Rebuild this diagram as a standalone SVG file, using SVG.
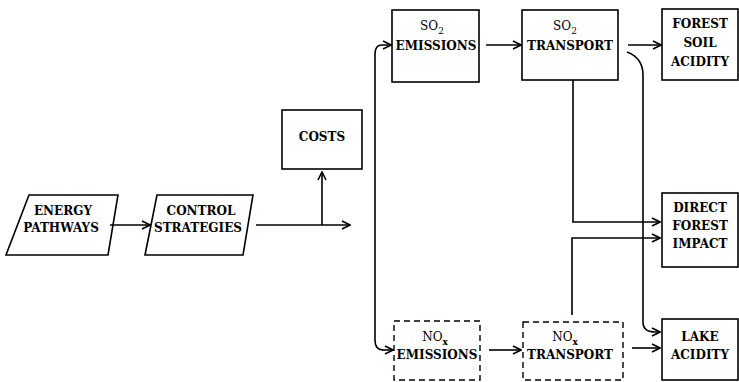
<svg xmlns="http://www.w3.org/2000/svg" width="739" height="382" viewBox="0 0 739 382">
<defs>
<marker id="ah" viewBox="0 0 10 10" refX="9" refY="5" markerWidth="10" markerHeight="10" markerUnits="userSpaceOnUse" orient="auto">
<path d="M1,1 L9,5 L1,9" fill="none" stroke="#000" stroke-width="1.6"/>
</marker>
</defs>
<style>
.box{fill:#fff;stroke:#000;stroke-width:1.6}
.dash{fill:#fff;stroke:#000;stroke-width:1.4;stroke-dasharray:6,4}
text{font-family:'DejaVu Serif','Liberation Serif',serif}
.lbl{font-weight:bold;font-size:12px;text-anchor:middle;fill:#000}
.chem{font-size:12px;text-anchor:middle;fill:#000}
.con{fill:none;stroke:#000;stroke-width:1.6;marker-end:url(#ah)}
.ln{fill:none;stroke:#000;stroke-width:1.6}
</style>
<rect width="739" height="382" fill="#fff"/>
<g id="energy">
<polygon class="box" points="29,195 118,195 108,255 6,255"/>
<text class="lbl" x="63" y="215">ENERGY</text>
<text class="lbl" x="61" y="232">PATHWAYS</text>
</g>
<g id="control">
<polygon class="box" points="157,195 253,195 243,255 145,255"/>
<text class="lbl" x="201" y="215">CONTROL</text>
<text class="lbl" x="198" y="232">STRATEGIES</text>
</g>
<g id="costs">
<rect class="box" x="282" y="110" width="80" height="59"/>
<text class="lbl" x="322" y="141">COSTS</text>
</g>
<g id="so2em">
<rect class="box" x="392" y="10" width="87" height="72"/>
<text class="chem" x="432" y="30">SO<tspan font-size="9" dy="4">2</tspan></text>
<text class="lbl" x="436" y="50">EMISSIONS</text>
</g>
<g id="so2tr">
<rect class="box" x="522" y="10" width="96" height="70"/>
<text class="chem" x="565" y="30">SO<tspan font-size="9" dy="4">2</tspan></text>
<text class="lbl" x="570" y="50">TRANSPORT</text>
</g>
<g id="forestsoil">
<rect class="box" x="662" y="9" width="76" height="71"/>
<text class="lbl" x="700" y="28">FOREST</text>
<text class="lbl" x="700" y="47">SOIL</text>
<text class="lbl" x="700" y="66">ACIDITY</text>
</g>
<g id="directforest">
<rect class="box" x="662" y="193" width="76" height="74"/>
<text class="lbl" x="700" y="212">DIRECT</text>
<text class="lbl" x="700" y="230">FOREST</text>
<text class="lbl" x="700" y="248">IMPACT</text>
</g>
<g id="noxem">
<rect class="dash" x="394" y="321" width="86" height="59"/>
<text class="chem" x="435" y="341">NO<tspan font-size="9" dy="4" font-weight="bold">x</tspan></text>
<text class="lbl" x="437" y="359">EMISSIONS</text>
</g>
<g id="noxtr">
<rect class="dash" x="523" y="322" width="100" height="58"/>
<text class="chem" x="565" y="341">NO<tspan font-size="9" dy="4" font-weight="bold">x</tspan></text>
<text class="lbl" x="570" y="359">TRANSPORT</text>
</g>
<g id="lake">
<rect class="box" x="662" y="319" width="76" height="61"/>
<text class="lbl" x="700" y="341">LAKE</text>
<text class="lbl" x="700" y="359">ACIDITY</text>
</g>
<g id="connectors">
<path class="con" d="M110,225 H150"/>
<path class="con" d="M256,225 H350"/>
<path class="con" d="M322,225 V172"/>
<path class="con" d="M375,340 V54 Q375,45 382,45 H391"/>
<path class="ln" d="M375,340 Q375,350 383,350"/>
<path class="con" d="M382,350 H393"/>
<path class="con" d="M486,45 H521"/>
<path class="con" d="M628,45 H661"/>
<path class="con" d="M573,80 V222 H660"/>
<path class="con" d="M572,315 V238 H660"/>
<path class="con" d="M627,52 Q643,58 643,75 V322 Q643,332 655,332 H660"/>
<path class="con" d="M489,350 H521"/>
<path class="con" d="M632,348 H660"/>
</g>
</svg>
